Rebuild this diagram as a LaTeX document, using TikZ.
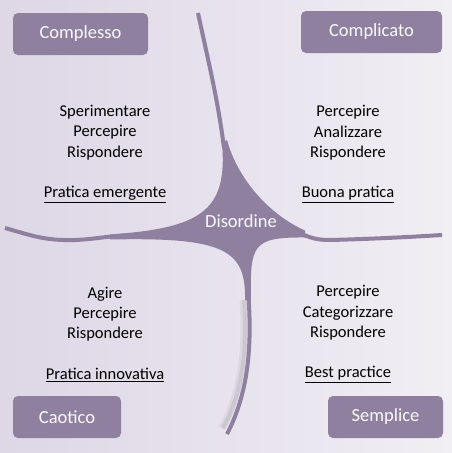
\documentclass[tikz,border=0pt]{standalone}
\usepackage{fontspec}
\setmainfont{Carlito}
\usetikzlibrary{positioning}
\definecolor{domainpurple}{RGB}{143,128,160}
\definecolor{bgleft}{RGB}{221,215,230}
\definecolor{bgright}{RGB}{241,238,244}
\definecolor{labelwhite}{RGB}{250,250,252}
\tikzset{
  domainbox/.style={rectangle,rounded corners=5pt,fill=domainpurple,text=labelwhite,inner sep=0pt,minimum height=42pt,font=\fontsize{18.5}{22}\selectfont},
  actions/.style={align=center,inner sep=0pt,text=black,font=\fontsize{16.5}{20.3}\selectfont},
  arm/.style={draw=domainpurple,line width=4pt},
  stemshadow/.style={draw=black,line cap=butt}
}

\begin{document}
\begin{tikzpicture}[
  x=1pt,y=-1pt,
  blob/.style={fill=domainpurple},
  centerlabel/.style={text=labelwhite,inner sep=0pt,font=\fontsize{18.5}{22}\selectfont}
]

\useasboundingbox (0,0) rectangle (452,453);
\fill[left color=bgleft,right color=bgright] (0,0) rectangle (452,453);

% shadow of the lower arm
\draw[stemshadow,line width=7pt,opacity=0.05] (243,300) .. controls (246,345) and (243,390) .. (222,428);
\draw[stemshadow,line width=4pt,opacity=0.07] (244,300) .. controls (247,345) and (244,390) .. (223,428);

% disorder shape
\draw[arm] (198,13) .. controls (208,60) and (218,100) .. (224,148);
\draw[arm] (5,228) .. controls (30,235) and (45,241) .. (75,240)
  .. controls (100,239) and (115,234) .. (140,236);
\draw[arm] (290,227) .. controls (305,236) and (312,240) .. (330,240)
  .. controls (370,239) and (410,237) .. (442,235);
\draw[arm] (248,290) .. controls (252,340) and (250,390) .. (227,434);

\fill[blob] (222,143) .. controls (228,212) and (200,228) .. (110,234.5)
  -- (110,239.5) .. controls (225,237) and (246,250) .. (245,300)
  -- (251,300) .. controls (250,245) and (252,237) .. (305,237.5)
  -- (305,230.5) .. controls (270,215) and (238,180) .. (227,140) -- cycle;

\node[centerlabel] (disordine) at (241,221) {Disordine};

% domains
\node[domainbox,minimum width=135pt] (complesso) at (80.5,34) {Complesso};
\node[domainbox,minimum width=141pt] (complicato) at (371.5,32) {Complicato};
\node[domainbox,minimum width=108pt] (caotico) at (67,417) {Caotico};
\node[domainbox,minimum width=115pt] (semplice) at (385.5,417) {Semplice};

\node[actions] (complessoTxt) at (105,154)
  {Sperimentare\\Percepire\\Rispondere\\[20.3pt]\underline{Pratica emergente}};
\node[actions] (complicatoTxt) at (348,154)
  {Percepire\\Analizzare\\Rispondere\\[20.3pt]\underline{Buona pratica}};
\node[actions] (caoticoTxt) at (105,334)
  {Agire\\Percepire\\Rispondere\\[20.3pt]\underline{Pratica innovativa}};
\node[actions] (sempliceTxt) at (348,334)
  {Percepire\\Categorizzare\\Rispondere\\[20.3pt]\underline{Best practice}};

\end{tikzpicture}
\end{document}
